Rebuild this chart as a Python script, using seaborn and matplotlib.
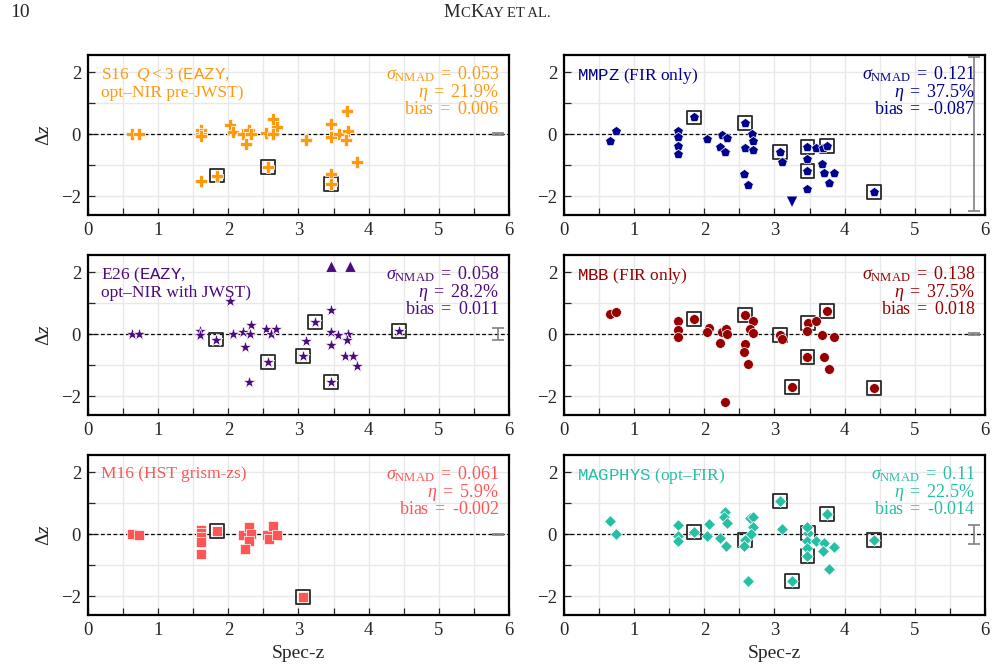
import numpy as np
import pandas as pd
import matplotlib
matplotlib.use("Agg")
import matplotlib.pyplot as plt
from matplotlib.ticker import MultipleLocator
import seaborn as sns

# ---------------- data ----------------
s16_x = [0.63, 0.73, 1.61, 1.61, 1.61, 1.61, 1.84, 2.03, 2.06, 2.21, 2.25, 2.30, 2.32, 2.54,
         2.57, 2.64, 2.69, 2.64, 3.10, 3.46, 3.46, 3.46, 3.46, 3.58, 3.69, 3.70, 3.67, 3.84]
s16_y = [0.0, 0.0, 0.12, 0.0, -0.05, -1.52, -1.33, 0.31, 0.07, 0.0, -0.30, 0.13, 0.0, 0.05,
         -1.06, 0.48, 0.22, 0.0, -0.17, 0.32, -0.09, -1.28, -1.61, 0.0, 0.76, 0.10, -0.19, -0.89]
s16_box_x = [1.84, 2.57, 3.46]
s16_box_y = [-1.33, -1.06, -1.61]

mmpz_x = [0.65, 0.74, 1.62, 1.62, 1.62, 1.62, 1.85, 2.04, 2.25, 2.32, 2.23, 2.30, 2.58, 2.68,
          2.70, 2.58, 2.70, 2.56, 2.62, 3.08, 3.11, 3.47, 3.59, 3.47, 3.47, 3.47, 3.69, 3.75,
          3.67, 3.71, 3.85, 3.78, 4.42]
mmpz_y = [-0.23, 0.11, 0.11, -0.08, -0.38, -0.65, 0.54, -0.15, -0.02, -0.11, -0.40, -0.57, 0.35,
          0.01, -0.22, -0.45, -0.52, -1.28, -1.65, -0.56, -0.89, -0.40, -0.45, -0.80, -1.19, -1.75,
          -0.45, -0.37, -0.96, -1.24, -1.24, -1.56, -1.86]
mmpz_lim_x = [3.25]
mmpz_lim_y = [-2.17]
mmpz_box_x = [1.85, 2.58, 3.08, 3.47, 3.47, 3.75, 4.42]
mmpz_box_y = [0.54, 0.35, -0.56, -0.40, -1.19, -0.37, -1.86]

e26_x = [0.63, 0.73, 1.60, 1.60, 1.83, 2.03, 2.06, 2.21, 2.32, 2.31, 2.24, 2.30, 2.54, 2.61,
         2.68, 2.57, 3.24, 3.11, 3.06, 3.46, 3.46, 3.46, 3.46, 3.57, 3.70, 3.69, 3.66, 3.78,
         3.84, 4.43]
e26_y = [0.0, 0.0, 0.10, -0.03, -0.17, 1.06, 0.01, 0.08, 0.29, 0.01, -0.40, -1.53, 0.16, 0.0,
         0.16, -0.90, 0.40, -0.22, -0.69, 0.77, 0.06, -0.34, -1.55, -0.02, 0.0, -0.17, -0.70,
         -0.70, -1.02, 0.10]
e26_lim_x = [3.47, 3.74]
e26_lim_y = [2.17, 2.17]
e26_box_x = [1.83, 2.57, 3.24, 3.06, 3.46, 4.43]
e26_box_y = [-0.17, -0.90, 0.40, -0.69, -1.55, 0.10]

mbb_x = [0.65, 0.74, 1.62, 1.62, 1.62, 1.85, 2.07, 2.04, 2.25, 2.31, 2.33, 2.23, 2.30, 2.58,
         2.70, 2.65, 2.70, 2.58, 2.56, 2.62, 3.08, 3.11, 3.25, 3.48, 3.59, 3.47, 3.47, 3.75,
         3.67, 3.85, 3.71, 3.78, 4.42]
mbb_y = [0.64, 0.70, 0.43, 0.14, -0.09, 0.48, 0.21, 0.06, 0.06, 0.17, 0.01, -0.27, -2.19, 0.62,
         0.41, 0.18, 0.04, -0.33, -0.56, -0.96, -0.02, -0.16, -1.69, 0.37, 0.44, 0.11, -0.72,
         0.76, -0.02, -0.08, -0.72, -1.12, -1.73]
mbb_box_x = [1.85, 2.58, 3.08, 3.25, 3.48, 3.47, 3.75, 4.42]
mbb_box_y = [0.48, 0.62, -0.02, -1.69, 0.37, -0.72, 0.76, -1.73]

m16_x = [0.63, 0.73, 1.61, 1.61, 1.61, 1.61, 1.61, 1.84, 2.21, 2.30, 2.32, 2.29, 2.24, 2.55,
         2.58, 2.64, 2.69, 3.07]
m16_y = [0.0, -0.03, 0.13, 0.03, -0.10, -0.24, -0.65, 0.10, -0.03, 0.24, 0.02, -0.22, -0.48,
         -0.03, -0.16, 0.26, -0.02, -2.01]
m16_box_x = [1.84, 3.07]
m16_box_y = [0.10, -2.01]

mag_x = [0.65, 0.74, 1.62, 1.62, 1.62, 1.85, 2.07, 2.04, 2.23, 2.31, 2.30, 2.28, 2.33, 2.65,
         2.70, 2.70, 2.67, 2.58, 2.56, 2.62, 3.08, 3.11, 3.25, 3.48, 3.47, 3.47, 3.47, 3.47,
         3.59, 3.71, 3.69, 3.85, 3.75, 3.78, 4.42]
mag_y = [0.42, 0.01, 0.29, -0.05, -0.21, 0.07, 0.32, -0.05, -0.11, -0.39, 0.73, 0.57, 0.36,
         0.52, 0.54, 0.24, 0.0, -0.19, -0.38, -1.51, 1.06, 0.16, -1.51, 0.03, 0.24, -0.21,
         -0.43, -0.71, -0.21, -0.27, -0.54, -0.41, 0.65, -1.12, -0.18]
mag_box_x = [1.85, 2.58, 3.08, 3.25, 3.48, 3.47, 3.75, 4.42]
mag_box_y = [0.07, -0.19, 1.06, -1.51, 0.03, -0.71, 0.65, -0.18]

labels = [r"S16  $Q < 3$ ($\mathtt{EAZY}$," "\n" "opt–NIR pre-JWST)",
          r"$\mathtt{MMPZ}$ (FIR only)",
          r"E26 ($\mathtt{EAZY}$," "\n" "opt–NIR with JWST)",
          r"$\mathtt{MBB}$ (FIR only)",
          r"M16 (HST grism-zs)",
          r"$\mathtt{MAGPHYS}$ (opt–FIR)"]
sigma_vals = ["0.053", "0.121", "0.058", "0.138", "0.061", "0.11"]
eta_vals = ["21.9", "37.5", "28.2", "37.5", "5.9", "22.5"]
bias_vals = ["0.006", "-0.087", "0.011", "0.018", "-0.002", "-0.014"]
err_vals = [0.03, 2.47, 0.20, 0.04, 0.01, 0.30]

# ---------------- style ----------------
sns.set_style("ticks")
plt.rcParams["font.family"] = ["Liberation Serif", "DejaVu Serif"]
plt.rcParams["mathtext.fontset"] = "custom"
plt.rcParams["mathtext.rm"] = "Liberation Serif"
plt.rcParams["mathtext.it"] = "Liberation Serif:italic"
plt.rcParams["mathtext.bf"] = "Liberation Serif:bold"
plt.rcParams["mathtext.tt"] = "Liberation Mono"
plt.rcParams["mathtext.fallback"] = "stix"

colors = ["#ff9910", "#00008f", "#4b0a7d", "#960000", "#ff5555", "#25bfa6"]
markers = ["P", "p", "*", "o", "s", "D"]
msizes = [75, 55, 90, 50, 50, 36]

panels = [
    (s16_x, s16_y, s16_box_x, s16_box_y, None, None, None),
    (mmpz_x, mmpz_y, mmpz_box_x, mmpz_box_y, mmpz_lim_x, mmpz_lim_y, "v"),
    (e26_x, e26_y, e26_box_x, e26_box_y, e26_lim_x, e26_lim_y, "^"),
    (mbb_x, mbb_y, mbb_box_x, mbb_box_y, None, None, None),
    (m16_x, m16_y, m16_box_x, m16_box_y, None, None, None),
    (mag_x, mag_y, mag_box_x, mag_box_y, None, None, None),
]

W, H = 995, 671
fig = plt.figure(figsize=(W / 100, H / 100), dpi=100)

lefts = [88, 564]
tops = [55, 255, 455]
pw, ph = 421, 160

for i, (px, py, bx, by, lx, ly, lm) in enumerate(panels):
    r, c = divmod(i, 2)
    ax = fig.add_axes([lefts[c] / W, 1 - (tops[r] + ph) / H, pw / W, ph / H])
    ax.set_xlim(0, 6)
    ax.set_ylim(-2.6, 2.55)
    ax.xaxis.set_major_locator(MultipleLocator(1))
    ax.xaxis.set_minor_locator(MultipleLocator(0.5))
    ax.yaxis.set_major_locator(MultipleLocator(2))
    ax.yaxis.set_minor_locator(MultipleLocator(1))
    ax.grid(True, which="both", color="#e8e8e8", lw=1.0, zorder=0)
    ax.set_axisbelow(True)
    ax.tick_params(which="both", direction="in", length=5, width=0.9,
                   top=False, right=False, labelsize=13.5, pad=5)
    for sp in ax.spines.values():
        sp.set_linewidth(1.6)
        sp.set_color("black")
    ax.axhline(0, color="black", ls=(0, (3, 2)), lw=0.9, zorder=1)

    # box markers
    ax.scatter(bx, by, marker="s", s=100, facecolors="none", edgecolors="#2a2a2a",
               linewidths=1.3, zorder=2)
    df = pd.DataFrame({"x": px, "y": py})
    sns.scatterplot(data=df, x="x", y="y", ax=ax, marker=markers[i], s=msizes[i],
                    color=colors[i], edgecolor="white", linewidth=0.5, zorder=3, legend=False)
    if lx is not None:
        ax.scatter(lx, ly, marker=lm, s=55, color=colors[i], edgecolors="none", zorder=3)

    ax.errorbar([5.85], [0.0], yerr=[err_vals[i]], fmt="none", ecolor="#808080",
                elinewidth=1.2, capsize=4, capthick=1.2, zorder=3)

    ax.text(0.03, 0.93, labels[i], transform=ax.transAxes, ha="left", va="top",
            color=colors[i], fontsize=12.5, linespacing=1.0)
    stats = (r"$\sigma_{\rm NMAD}\ =\ $" + sigma_vals[i] + "\n" +
             r"$\eta\ =\ $" + eta_vals[i] + "%\n" +
             r"bias$\ =\ $" + bias_vals[i])
    ax.text(0.977, 0.94, stats, transform=ax.transAxes, ha="right", va="top",
            color=colors[i], fontsize=13, linespacing=0.85)

    ax.set_xlabel("Spec-z" if r == 2 else "", fontsize=14)
    ax.set_ylabel(r"$\Delta z$" if c == 0 else "", fontsize=14, labelpad=6)

# ---------------- page header ----------------
fig.text(10 / W, 1 - 17 / H, "10", ha="left", va="baseline", fontsize=14)
pieces = [("M", 13.5), ("C", 10.5), ("K", 13.5), ("AY ET AL.", 10.5)]
objs = [fig.text(0, 1 - 17 / H, s, ha="left", va="baseline", fontsize=fs) for s, fs in pieces]
fig.canvas.draw()
renderer = fig.canvas.get_renderer()
widths = [t.get_window_extent(renderer).width for t in objs]
xcur = 497 - sum(widths) / 2
for t, w in zip(objs, widths):
    t.set_position((xcur / W, 1 - 17 / H))
    xcur += w

fig.savefig("out.png", dpi=100)
